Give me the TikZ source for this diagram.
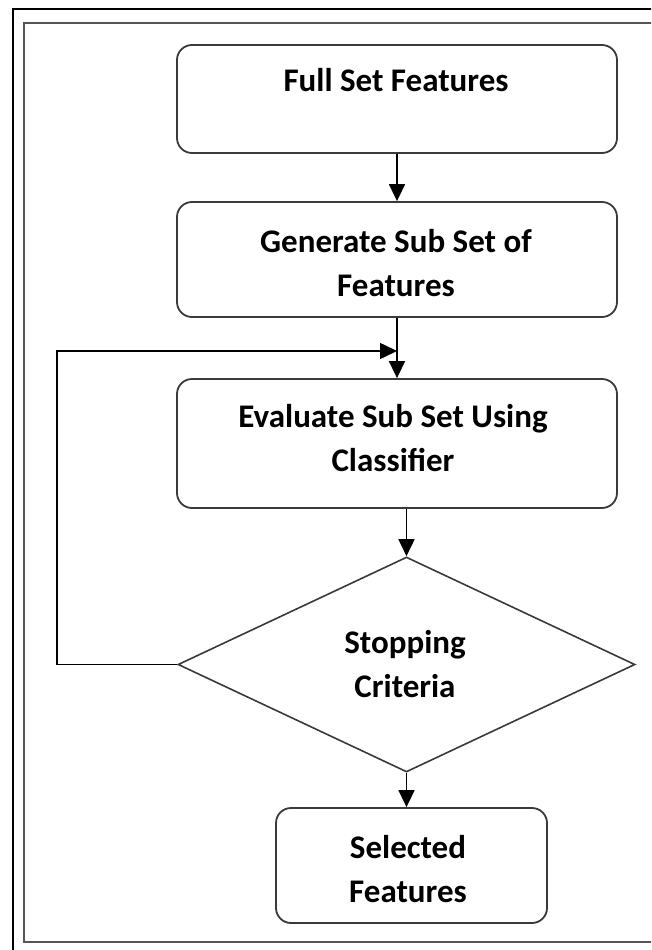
\documentclass[tikz,border=0pt]{standalone}
\usepackage{fontspec}
\setmainfont{Carlito}
\usetikzlibrary{shapes.geometric,arrows.meta}
\definecolor{boxline}{HTML}{3A3A3A}
\definecolor{frameline}{HTML}{555555}
\begin{document}
\begin{tikzpicture}[x=1pt,y=-1pt,
  box/.style={draw=boxline,line width=1.8pt,rounded corners=15pt,fill=white,inner sep=0pt},
  dia/.style={draw=boxline,line width=1.6pt,shape=diamond,inner sep=0pt,fill=white},
  txt/.style={font=\fontsize{33pt}{44pt}\selectfont\bfseries,align=center,anchor=base,inner sep=0pt},
  arr/.style={draw=black,line width=1.6pt,-{Triangle[length=17pt,width=16pt]}}]
\useasboundingbox (0,0) rectangle (651,950);
\clip (0,0) rectangle (651,950);
\fill[white] (0,0) rectangle (651,950);
\draw[black,line width=2.6pt] (13,9) rectangle (720,1020);
\draw[frameline,line width=2.6pt] (24,23) rectangle (700,942);
% shapes
\node[box,minimum width=440pt,minimum height=108pt] (b1) at (397,99) {};
\node[box,minimum width=440pt,minimum height=115pt] (b2) at (397,259.5) {};
\node[box,minimum width=440pt,minimum height=129pt] (b3) at (397,443.5) {};
\node[dia,minimum width=457pt,minimum height=215pt] (d) at (406.5,664.5) {};
\node[box,minimum width=271pt,minimum height=115pt] (b4) at (411.5,865.5) {};
% texts (base anchor = baseline of last line)
\node[txt] (t1) at (396,92) {Full Set Features};
\node[txt] (t2) at (396,296) {Generate Sub Set of\\Features};
\node[txt] (t3) at (393,471) {Evaluate Sub Set Using\\Classifier};
\node[txt] (t4) at (405,697) {Stopping\\Criteria};
\node[txt] (t5) at (408,902) {Selected\\Features};
% connectors
\coordinate (lc) at (57,351);
\draw[arr] (b1.south) -- (b2.north);
\draw[arr] (b2.south) -- (b3.north);
\draw[arr] (d.west) -- (lc |- d.west) -- (lc) -- (b2.south |- lc);
\draw[arr] (b3.south -| d.north) -- (d.north);
\draw[arr] (d.south) -- (d.south |- b4.north);
\end{tikzpicture}
\end{document}
